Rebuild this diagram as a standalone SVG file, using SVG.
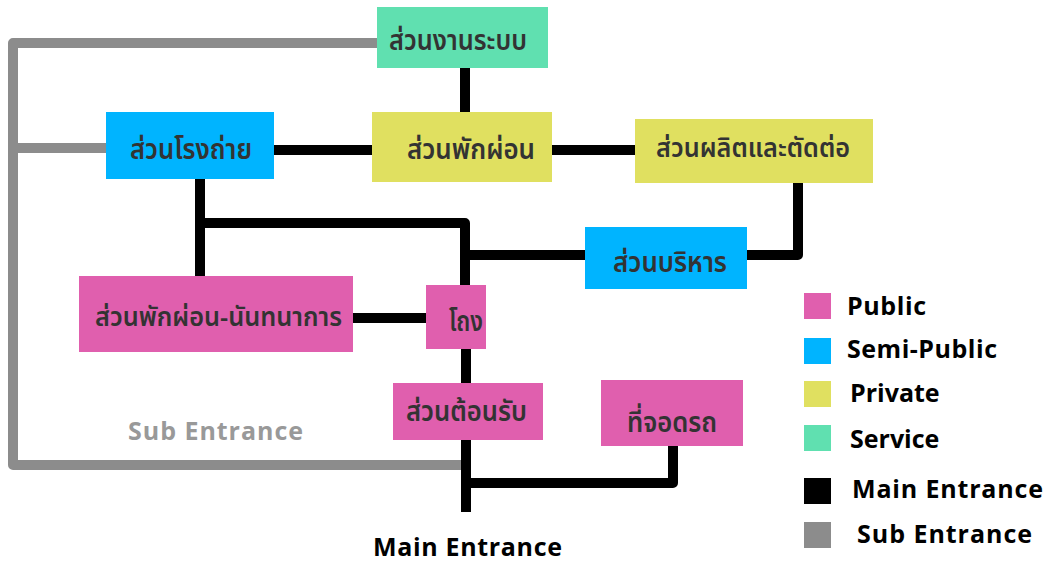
<svg xmlns="http://www.w3.org/2000/svg" width="1049" height="563" viewBox="0 0 1049 563">
<style>
.th{font-family:"Noto Sans Thai","Noto Sans Thai Looped","Noto Sans","DejaVu Sans",sans-serif;font-size:28px;font-weight:600;fill:#333}
.en{font-family:"Open Sans","Noto Sans","Liberation Sans",sans-serif;font-size:25px;font-weight:700;fill:#000}
.pub{fill:#E05FAE}.semi{fill:#00B4FF}.pri{fill:#E0E060}.svc{fill:#60E0B0}
.main{stroke:#000;stroke-width:10;fill:none;stroke-linejoin:round;stroke-linecap:butt}
.sub{stroke:#8C8C8C;stroke-width:10;fill:none;stroke-linejoin:round}
</style>
<rect width="1049" height="563" fill="#fff"/>
<g id="connectors">
<path class="sub" d="M377,43 H13 V465 H466"/>
<path class="sub" d="M13,148 H106"/>
<path class="main" d="M465,68 V112"/>
<path class="main" d="M274,150 H372"/>
<path class="main" d="M552,150 H635"/>
<path class="main" d="M798,183 V255 H747"/>
<path class="main" d="M200,179 V276"/>
<path class="main" d="M200,223 H465 V285"/>
<path class="main" d="M465,255 H585"/>
<path class="main" d="M353,318 H426"/>
<path class="main" d="M466,349 V383"/>
<path class="main" d="M466,440 V512" stroke-linecap="round"/>
<path class="main" d="M466,483 H673 V446"/>
</g>
<g id="n-system"><rect class="svc" x="377" y="7" width="171" height="61"/><text class="th" x="389" y="50" textLength="138" lengthAdjust="spacingAndGlyphs">ส่วนงานระบบ</text></g>
<g id="n-studio"><rect class="semi" x="106" y="112" width="168" height="67"/><text class="th" x="130" y="159" textLength="122" lengthAdjust="spacingAndGlyphs">ส่วนโรงถ่าย</text></g>
<g id="n-rest"><rect class="pri" x="372" y="112" width="180" height="70"/><text class="th" x="407" y="159" textLength="128" lengthAdjust="spacingAndGlyphs">ส่วนพักผ่อน</text></g>
<g id="n-prod"><rect class="pri" x="635" y="119" width="238" height="64"/><text class="th" x="656" y="157" textLength="194" lengthAdjust="spacingAndGlyphs" style="font-size:26px">ส่วนผลิตและตัดต่อ</text></g>
<g id="n-admin"><rect class="semi" x="585" y="227" width="162" height="62"/><text class="th" x="613" y="272" textLength="114" lengthAdjust="spacingAndGlyphs">ส่วนบริหาร</text></g>
<g id="n-recreation"><rect class="pub" x="79" y="276" width="274" height="76"/><text class="th" x="95" y="326" textLength="247" lengthAdjust="spacingAndGlyphs" style="font-size:26px">ส่วนพักผ่อน-นันทนาการ</text></g>
<g id="n-hall"><rect class="pub" x="426" y="285" width="60" height="64"/><text class="th" x="449" y="331" textLength="34" lengthAdjust="spacingAndGlyphs">โถง</text></g>
<g id="n-reception"><rect class="pub" x="393" y="383" width="150" height="57"/><text class="th" x="406" y="421" textLength="121" lengthAdjust="spacingAndGlyphs">ส่วนต้อนรับ</text></g>
<g id="n-parking"><rect class="pub" x="601" y="380" width="142" height="66"/><text class="th" x="627" y="432" textLength="90" lengthAdjust="spacingAndGlyphs">ที่จอดรถ</text></g>
<text class="en" x="128" y="440" textLength="175" lengthAdjust="spacing" style="fill:#999;font-size:25px">Sub Entrance</text>
<text class="en" x="373" y="556" textLength="189" lengthAdjust="spacing">Main Entrance</text>
<g id="legend">
<rect class="pub" x="804" y="293" width="27" height="26"/><text class="en" x="847" y="315" textLength="79" lengthAdjust="spacing">Public</text>
<rect class="semi" x="804" y="338" width="27" height="26"/><text class="en" x="847" y="358" textLength="150" lengthAdjust="spacing">Semi-Public</text>
<rect class="pri" x="804" y="381" width="27" height="26"/><text class="en" x="850" y="402">Private</text>
<rect class="svc" x="804" y="425" width="27" height="26"/><text class="en" x="850" y="448">Service</text>
<rect x="804" y="478" width="27" height="26" fill="#000"/><text class="en" x="852" y="498" textLength="191" lengthAdjust="spacing">Main Entrance</text>
<rect x="804" y="522" width="27" height="26" fill="#8C8C8C"/><text class="en" x="857" y="543" textLength="175" lengthAdjust="spacing">Sub Entrance</text>
</g>
</svg>
